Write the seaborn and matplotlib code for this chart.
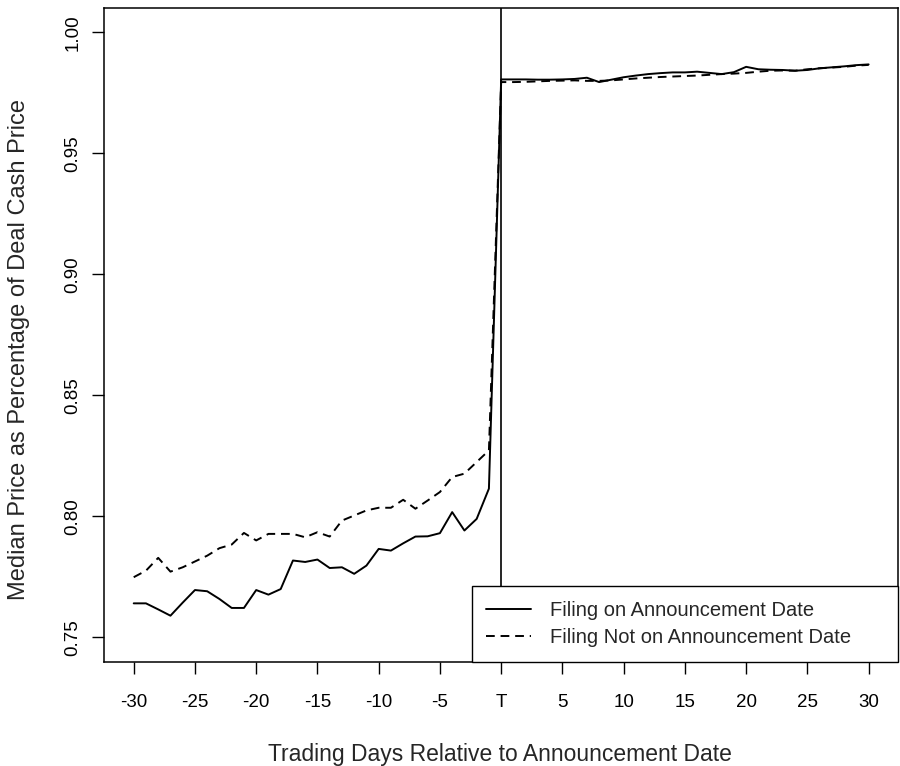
import matplotlib
matplotlib.use("Agg")
import matplotlib.pyplot as plt
import numpy as np
import pandas as pd
import seaborn as sns

# ---------------- data ----------------
days = list(range(-30, 31))

filing_on = [
    0.7641, 0.7641, 0.7616, 0.7590, 0.7644, 0.7696, 0.7691, 0.7659, 0.7622, 0.7622,
    0.7696, 0.7677, 0.7700, 0.7818, 0.7812, 0.7822, 0.7787, 0.7790, 0.7763, 0.7797,
    0.7866, 0.7859, 0.7889, 0.7917, 0.7918, 0.7931, 0.8018, 0.7942, 0.7990, 0.8115,
    0.9806,
    0.9806, 0.9806, 0.9805, 0.9805, 0.9806, 0.9808, 0.9813, 0.9795, 0.9805, 0.9815,
    0.9822, 0.9828, 0.9832, 0.9835, 0.9835, 0.9838, 0.9833, 0.9828, 0.9836, 0.9858,
    0.9848, 0.9846, 0.9845, 0.9842, 0.9845, 0.9852, 0.9856, 0.9860, 0.9865, 0.9868,
]

filing_not_on = [
    0.7749, 0.7776, 0.7829, 0.7772, 0.7790, 0.7814, 0.7838, 0.7869, 0.7884, 0.7932,
    0.7901, 0.7928, 0.7928, 0.7928, 0.7914, 0.7935, 0.7917, 0.7983, 0.8004, 0.8025,
    0.8036, 0.8036, 0.8069, 0.8032, 0.8066, 0.8101, 0.8163, 0.8177, 0.8225, 0.8273,
    0.9795,
    0.9795, 0.9796, 0.9798, 0.9800, 0.9801, 0.9802, 0.9800, 0.9800, 0.9802, 0.9806,
    0.9810, 0.9813, 0.9816, 0.9818, 0.9820, 0.9822, 0.9825, 0.9828, 0.9830, 0.9833,
    0.9838, 0.9842, 0.9843, 0.9842, 0.9848, 0.9852, 0.9855, 0.9858, 0.9863, 0.9866,
]

series_names = ["Filing on Announcement Date", "Filing Not on Announcement Date"]

x_ticks = list(range(-30, 31, 5))
x_tick_labels = ["-30", "-25", "-20", "-15", "-10", "-5", "T", "5", "10", "15", "20", "25", "30"]
y_ticks = [0.75, 0.80, 0.85, 0.90, 0.95, 1.00]
y_tick_labels = ["0.75", "0.80", "0.85", "0.90", "0.95", "1.00"]

x_label = "Trading Days Relative to Announcement Date"
y_label = "Median Price as Percentage of Deal Cash Price"

df = pd.DataFrame({
    "day": days + days,
    "value": filing_on + filing_not_on,
    "series": [series_names[0]] * len(days) + [series_names[1]] * len(days),
})

# ---------------- style ----------------
sns.set_style("ticks")
plt.rcParams["font.family"] = ["Liberation Sans", "DejaVu Sans"]

fig = plt.figure(figsize=(9, 7.66), dpi=100)
ax = fig.add_axes([0.1159, 0.1362, 0.8819, 0.8530])

LW = 1.4
sns.lineplot(
    data=df, x="day", y="value", style="series",
    style_order=series_names,
    dashes={series_names[0]: "", series_names[1]: (4.5, 3.0)},
    color="black", linewidth=LW, ax=ax, legend=True,
)

ax.axvline(0, color="black", lw=1.2, zorder=3)

ax.set_xlim(-32.4, 32.4)
ax.set_ylim(0.74, 1.01)
ax.set_xticks(x_ticks)
ax.set_xticklabels(x_tick_labels)
ax.set_yticks(y_ticks)
ax.set_yticklabels(y_tick_labels)

ax.tick_params(axis="both", direction="out", length=8.6, width=1.0,
               colors="black", labelsize=13.5)
ax.tick_params(axis="x", pad=15)
ax.tick_params(axis="y", pad=8)
for lab in ax.get_yticklabels():
    lab.set_rotation(90)
    lab.set_va("center")

for sp in ax.spines.values():
    sp.set_visible(True)
    sp.set_color("black")
    sp.set_linewidth(1.1)

ax.set_xlabel(x_label, fontsize=16.5)
ax.set_ylabel(y_label, fontsize=17)
ax.xaxis.set_label_coords(0.4986, -0.124)
ax.yaxis.set_label_coords(-0.093, 0.478)

old = ax.get_legend()
handles = old.legend_handles
labels = [t.get_text() for t in old.get_texts()]
for h in handles:
    h.set_color("black")
    h.set_linewidth(LW)
leg = ax.legend(
    handles, labels, loc="lower left",
    bbox_to_anchor=(0.4629, 0.0, 0.5371, 0.11), mode="expand",
    borderaxespad=0, frameon=True, fancybox=False, edgecolor="black",
    framealpha=1, fontsize=14.5, handlelength=2.2, handletextpad=0.95,
    borderpad=0.72, labelspacing=0.42,
)
leg.get_frame().set_linewidth(1.0)

fig.savefig("out.png", dpi=100)
